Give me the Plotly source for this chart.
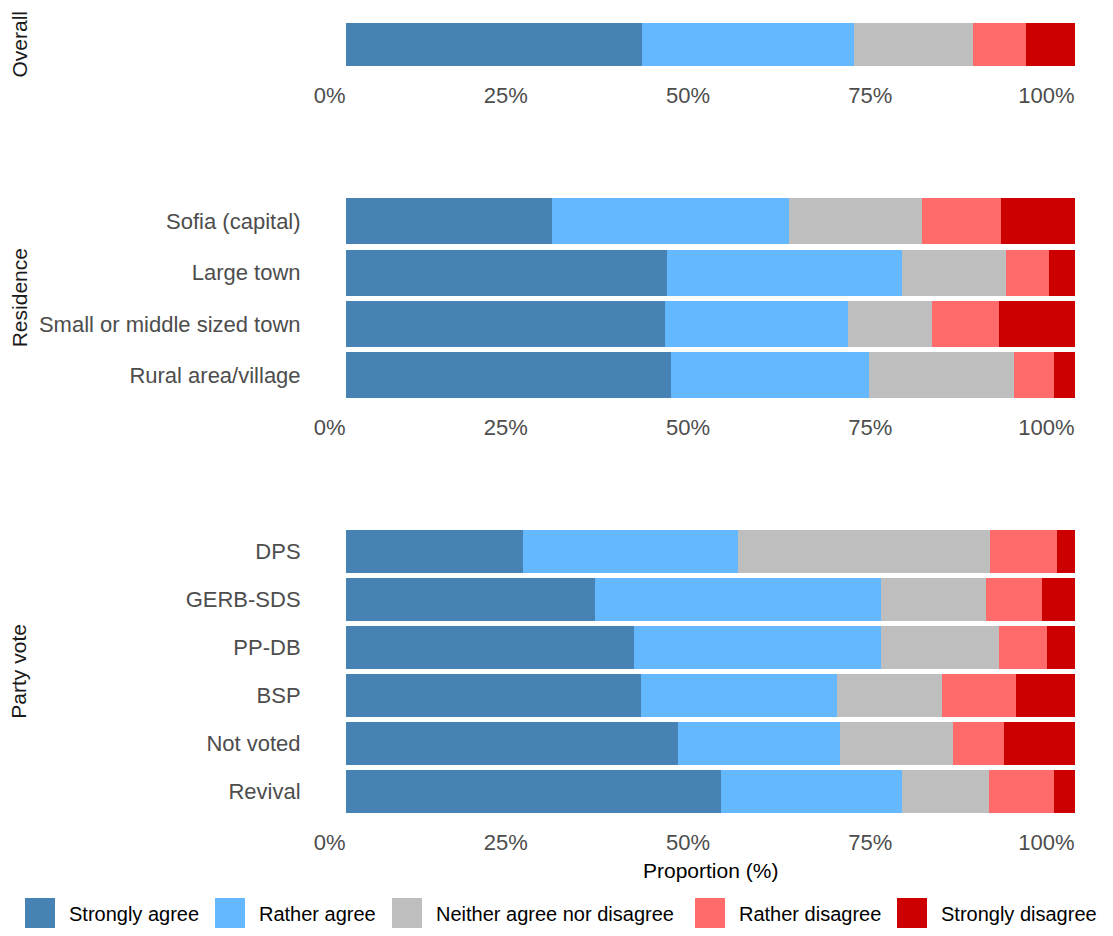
import plotly.graph_objects as go

# response scale and colours
responses = ["Strongly agree", "Rather agree", "Neither agree nor disagree",
             "Rather disagree", "Strongly disagree"]
colors = ["#4682B4", "#63B8FF", "#BEBEBE", "#FF6A6A", "#CD0000"]

# proportions (%) per group, in order of `responses`
overall_labels = ["Overall"]
overall_values = [[40.6, 29.1, 16.3, 7.3, 6.7]]

residence_labels = ["Sofia (capital)", "Large town", "Small or middle sized town",
                    "Rural area/village"]
residence_values = [
    [28.2, 32.5, 18.3, 10.8, 10.2],
    [44.0, 32.3, 14.3, 5.9, 3.5],
    [43.8, 25.1, 11.5, 9.2, 10.4],
    [44.6, 27.2, 19.9, 5.4, 2.9],
]

party_labels = ["DPS", "GERB-SDS", "PP-DB", "BSP", "Not voted", "Revival"]
party_values = [
    [24.3, 29.5, 34.6, 9.1, 2.5],
    [34.1, 39.3, 14.4, 7.7, 4.5],
    [39.5, 33.9, 16.2, 6.5, 3.9],
    [40.5, 26.8, 14.5, 10.1, 8.1],
    [45.6, 22.1, 15.6, 6.9, 9.8],
    [51.5, 24.8, 11.9, 8.9, 2.9],
]

tick_vals = [0, 25, 50, 75, 100]
tick_text = ["0%", "25%", "50%", "75%", "100%"]

# the page body has an 8px margin, so the figure is a bit smaller than the window
OFF = 8
W, H = 1113 - 2 * OFF, 936 - 2 * OFF
FONT = "Liberation Sans, Arial, sans-serif"


def px(x):
    """window pixel x -> paper fraction"""
    return (x - OFF) / W


def py(y):
    """window pixel y (from top) -> paper fraction"""
    return 1 - (y - OFF) / H


panels = [
    ("Overall", overall_labels, overall_values, (20.6, 68.4), False),
    ("Residence", residence_labels, residence_values, (195.7, 400.9), True),
    ("Party vote", party_labels, party_values, (527.6, 815.7), True),
]

fig = go.Figure()
x_dom = [px(346), px(1075)]

for i, (name, labels, values, (top, bottom), show_labels) in enumerate(panels, start=1):
    suffix = "" if i == 1 else str(i)
    for j, resp in enumerate(responses):
        fig.add_trace(go.Bar(
            x=[row[j] for row in values],
            y=labels,
            orientation="h",
            name=resp,
            marker=dict(color=colors[j], line=dict(width=0)),
            showlegend=False,
            xaxis="x" + suffix,
            yaxis="y" + suffix,
        ))
    fig.update_layout(**{
        "xaxis" + suffix: dict(
            domain=x_dom, range=[0, 100], anchor="y" + suffix,
            tickvals=tick_vals, ticktext=tick_text,
            ticklabelposition="outside left", ticklabelstandoff=7,
            ticks="outside", ticklen=14, tickcolor="rgba(0,0,0,0)",
            showgrid=False, zeroline=False, showline=False,
            tickfont=dict(family=FONT, size=22, color="#4D4D4D"),
            automargin=False, fixedrange=True,
        ),
        "yaxis" + suffix: dict(
            domain=[py(bottom), py(top)], anchor="x" + suffix,
            categoryorder="array", categoryarray=labels[::-1],
            showticklabels=show_labels,
            ticks="outside", ticklen=40, tickcolor="rgba(0,0,0,0)",
            showgrid=False, zeroline=False, showline=False,
            tickfont=dict(family=FONT, size=22, color="#4D4D4D"),
            automargin=False, fixedrange=True,
        ),
    })
    # facet strip label on the left
    fig.add_annotation(
        text=name, x=px(19), y=py((top + bottom) / 2),
        xref="paper", yref="paper", textangle=-90, showarrow=False,
        xanchor="center", yanchor="middle",
        font=dict(family=FONT, size=21, color="#1A1A1A"),
    )

# x axis title
fig.add_annotation(
    text="Proportion (%)", x=px((346 + 1075) / 2), y=py(870),
    xref="paper", yref="paper", showarrow=False,
    xanchor="center", yanchor="middle",
    font=dict(family=FONT, size=21, color="#000000"),
)

# legend drawn as keys + labels along the bottom
key_left = [25, 215, 392, 695, 897]
for resp, col, kx in zip(responses, colors, key_left):
    fig.add_shape(
        type="rect", xref="paper", yref="paper",
        x0=px(kx), x1=px(kx + 30), y0=py(928), y1=py(898),
        fillcolor=col, line=dict(width=0),
    )
    fig.add_annotation(
        text=resp, x=px(kx + 42), y=py(914),
        xref="paper", yref="paper", showarrow=False,
        xanchor="left", yanchor="middle",
        font=dict(family=FONT, size=20, color="#000000"),
    )

fig.update_layout(
    barmode="stack", bargap=0.1,
    width=W, height=H,
    margin=dict(l=0, r=0, t=0, b=0),
    paper_bgcolor="white", plot_bgcolor="white",
    showlegend=False,
    font=dict(family=FONT),
)

fig.write_html("out.html")
